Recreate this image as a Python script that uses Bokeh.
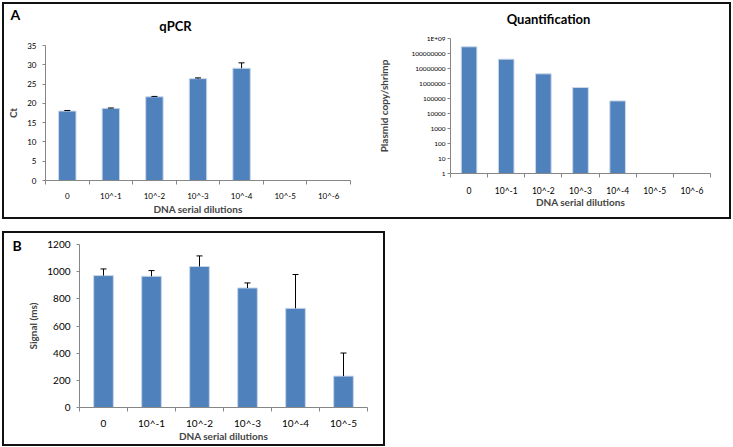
from bokeh.plotting import figure
from bokeh.layouts import row, column
from bokeh.models import (Range1d, FixedTicker, Whisker, TeeHead, ColumnDataSource,
                          Label, Spacer)
from bokeh.embed import file_html
from bokeh.resources import INLINE

# ---------------- data ----------------
categories_a = ["0", "10^-1", "10^-2", "10^-3", "10^-4", "10^-5", "10^-6"]
qpcr_ct = [18.0, 18.7, 21.7, 26.4, 29.1]
qpcr_err = [0.15, 0.1, 0.1, 0.2, 1.4]
qpcr_yticks = [0, 5, 10, 15, 20, 25, 30, 35]

quant_copies = [2.8e8, 4.2e7, 4.4e6, 5.4e5, 6.9e4]
quant_ticks = [1, 10, 100, 1000, 10000, 100000, 1e6, 1e7, 1e8, 1e9]
quant_tick_labels = ["1", "10", "100", "1000", "10000", "100000", "1000000",
                     "10000000", "100000000", "1E+09"]

categories_b = ["0", "10^-1", "10^-2", "10^-3", "10^-4", "10^-5"]
signal_ms = [971, 966, 1038, 880, 730, 231]
signal_err = [49, 42, 78, 37, 249, 170]
signal_yticks = [0, 200, 400, 600, 800, 1000, 1200]

# ---------------- style ----------------
FONT = "Lato"
BAR = "#4F81BD"
BAR_EDGE = "#c9d7ea"
AXIS = "#868686"
AXLAB = "10px"


def make_fig(width, height, left, right, top, bottom, n_cat, y_range, y_type="linear"):
    p = figure(width=width, height=height, x_range=Range1d(0, n_cat), y_range=y_range,
               y_axis_type=y_type, output_backend="svg", toolbar_location=None,
               min_border_left=left, min_border_right=right,
               min_border_top=top, min_border_bottom=bottom)
    p.grid.visible = False
    p.outline_line_color = None
    p.border_fill_color = "white"
    p.background_fill_color = "white"
    return p


def text_strip(width, height):
    # blank strip whose frame fills the canvas; holds panel letters / titles
    p = figure(width=width, height=height, x_range=Range1d(0, width),
               y_range=Range1d(0, height), output_backend="svg", toolbar_location=None,
               x_axis_location=None, y_axis_location=None, title=None,
               min_border=0, min_border_left=0, min_border_right=0,
               min_border_top=0, min_border_bottom=0)
    p.grid.visible = False
    p.outline_line_color = None
    p.border_fill_color = "white"
    p.background_fill_color = "white"
    return p


def add_text(p, x, y, text, size, align="left"):
    p.add_layout(Label(x=x, y=y, text=text, text_font=FONT, text_font_style="bold",
                       text_font_size=size, text_align=align,
                       text_baseline="alphabetic", text_color="black"))


def style_axes(p, cats, xfs, yfs, yticks, ylabels=None, xstand=7, xlabstand=5,
               ystand=6, ylabstand=5):
    n = len(cats)
    centers = [i + 0.5 for i in range(n)]
    xa = p.xaxis[0]
    xa.ticker = FixedTicker(ticks=centers, minor_ticks=list(range(n + 1)))
    xa.major_label_overrides = {c: lab for c, lab in zip(centers, cats)}
    xa.major_tick_out = 0
    xa.major_tick_in = 0
    xa.minor_tick_out = 4
    xa.minor_tick_in = 0
    xa.minor_tick_line_color = AXIS
    xa.axis_line_color = AXIS
    xa.major_label_text_font = FONT
    xa.major_label_text_font_size = xfs
    xa.major_label_text_color = "black"
    xa.major_label_standoff = xstand
    xa.axis_label = "DNA serial dilutions"
    xa.axis_label_text_font = FONT
    xa.axis_label_text_font_style = "bold"
    xa.axis_label_text_font_size = AXLAB
    xa.axis_label_standoff = xlabstand

    ya = p.yaxis[0]
    ya.ticker = FixedTicker(ticks=yticks, minor_ticks=[])
    if ylabels is not None:
        ya.major_label_overrides = {t: l for t, l in zip(yticks, ylabels)}
    ya.major_tick_out = 3
    ya.major_tick_in = 0
    ya.major_tick_line_color = AXIS
    ya.axis_line_color = AXIS
    ya.major_label_text_font = FONT
    ya.major_label_text_font_size = yfs
    ya.major_label_text_color = "black"
    ya.major_label_standoff = ystand
    ya.axis_label_text_font = FONT
    ya.axis_label_text_font_style = "bold"
    ya.axis_label_text_font_size = AXLAB
    ya.axis_label_standoff = ylabstand


def add_error(p, xs, vals, errs):
    src = ColumnDataSource(dict(x=xs, lower=vals, upper=[v + e for v, e in zip(vals, errs)]))
    w = Whisker(base="x", lower="lower", upper="upper", source=src, dimension="height",
                line_color="black", line_width=1, level="annotation",
                upper_head=TeeHead(size=6, line_color="black", line_width=1),
                lower_head=None)
    p.add_layout(w)


# ---------------- Panel A left: qPCR ----------------
hdr1 = text_strip(361, 34)
add_text(hdr1, 6, 24, "A", "14px")
add_text(hdr1, 171, 12.3, "qPCR", "13px", "center")

pa1 = make_fig(361, 179, 39, 15, 7, 35, len(categories_a), Range1d(0, 35))
xa1 = [i + 0.5 for i in range(len(qpcr_ct))]
pa1.vbar(x=xa1, top=qpcr_ct, bottom=0, width=0.4, fill_color=BAR,
         line_color=BAR_EDGE, line_width=1)
add_error(pa1, xa1, qpcr_ct, qpcr_err)
style_axes(pa1, categories_a, "8px", "8px", qpcr_yticks, xstand=6, xlabstand=-1)
pa1.yaxis[0].axis_label = "Ct"

# ---------------- Panel A right: Quantification ----------------
hdr2 = text_strip(364, 30)
add_text(hdr2, 183, 15.5, "Quantification", "13px", "center")

pa2 = make_fig(364, 183, 85, 19, 4, 44, len(categories_a), Range1d(1, 1e9), "log")
xa2 = [i + 0.5 for i in range(len(quant_copies))]
pa2.vbar(x=xa2, top=quant_copies, bottom=1, width=0.42, fill_color=BAR,
         line_color=BAR_EDGE, line_width=1)
style_axes(pa2, categories_a, "8.5px", "6.5px", quant_ticks, quant_tick_labels,
           xstand=8, xlabstand=-3, ystand=2, ylabstand=19)
pa2.yaxis[0].axis_label = "Plasmid copy/shrimp"

# ---------------- Panel B ----------------
STRIP_W = 20
stripB = text_strip(STRIP_W, 211)
add_text(stripB, 8, 199.5, "B", "14px")

pb = make_fig(359, 211, 49, 16, 11, 37, len(categories_b), Range1d(0, 1200))
xb = [i + 0.5 for i in range(len(signal_ms))]
pb.vbar(x=xb, top=signal_ms, bottom=0, width=0.41, fill_color=BAR,
        line_color=BAR_EDGE, line_width=1)
add_error(pb, xb, signal_ms, signal_err)
style_axes(pb, categories_b, "10px", "10px", signal_yticks, xstand=5, xlabstand=-2)
pb.yaxis[0].axis_label = "Signal (ms)"

box = {"border": "2px solid #111"}
panelA = row(column(hdr1, row(pa1)), column(hdr2, row(pa2)), styles=box)
panelB = row(stripB, column(pb), styles=box)
layout = column(Spacer(height=2),
                row(Spacer(width=2), panelA),
                Spacer(height=12),
                row(Spacer(width=2), panelB))

open("out.html", "w").write(file_html(layout, INLINE))
